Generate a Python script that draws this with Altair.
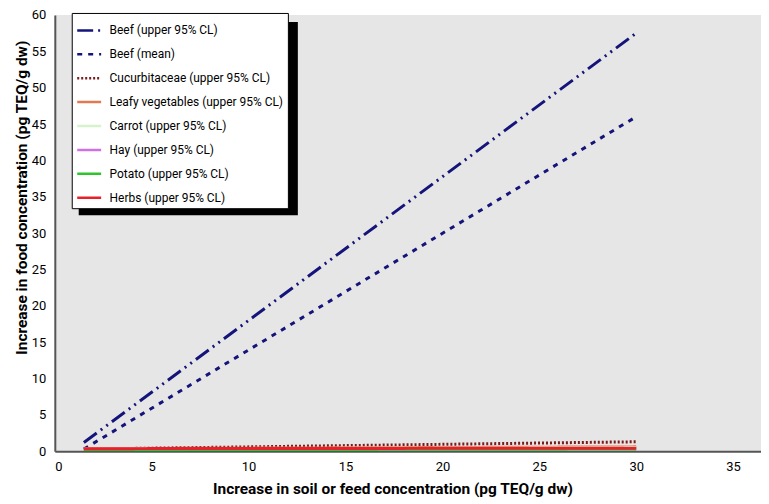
import altair as alt
import pandas as pd

series = [
    "Beef (upper 95% CL)",
    "Beef (mean)",
    "Cucurbitaceae (upper 95% CL)",
    "Leafy vegetables (upper 95% CL)",
    "Carrot (upper 95% CL)",
    "Hay (upper 95% CL)",
    "Potato (upper 95% CL)",
    "Herbs (upper 95% CL)",
]
colors = ["#14147a", "#14147a", "#7a1a1a", "#e07a50", "#d6f2cc", "#d070e6", "#2ec42e", "#e8202c"]
dashes = [[16, 5, 2, 5, 2, 5], [5, 6], [2, 2], [1, 0], [1, 0], [1, 0], [1, 0], [1, 0]]

x_start = [1.5, 1.5, 1.5, 1.5, 1.5, 1.5, 1.5, 1.5]
x_end = [30, 30, 30, 30, 30, 30, 30, 30]
y_start = [1.2, 0.3, 0.3, 0.35, 0.3, 0.25, 0.2, 0.35]
y_end = [57.5, 46.0, 1.3, 0.6, 0.5, 0.35, 0.3, 0.42]

x_ticks = [0, 5, 10, 15, 20, 25, 30, 35]
y_ticks = [0, 5, 10, 15, 20, 25, 30, 35, 40, 45, 50, 55, 60]

rows = []
for i, s in enumerate(series):
    rows.append({"series": s, "x": x_start[i], "y": y_start[i]})
    rows.append({"series": s, "x": x_end[i], "y": y_end[i]})
df = pd.DataFrame(rows)

FONT = "Roboto"

shadow = alt.Chart(pd.DataFrame({"a": [0]})).mark_rect(color="black").encode(
    x=alt.value(24), x2=alt.value(244), y=alt.value(7), y2=alt.value(201)
)

lines = alt.Chart(df).mark_line(strokeWidth=3, clip=True).encode(
    x=alt.X("x:Q", scale=alt.Scale(domain=[0, 36.44], nice=False),
            axis=alt.Axis(values=x_ticks, title="Increase in soil or feed concentration (pg TEQ/g dw)",
                          titleX=339, titleAnchor="middle", titlePadding=8, labelPadding=9)),
    y=alt.Y("y:Q", scale=alt.Scale(domain=[0, 60], nice=False),
            axis=alt.Axis(values=y_ticks, title="Increase in food concentration (pg TEQ/g dw)",
                          titleX=-25, titleY=183, titleBaseline="bottom", titleAnchor="middle",
                          labelPadding=9)),
    color=alt.Color("series:N", sort=series,
                    scale=alt.Scale(domain=series, range=colors),
                    legend=alt.Legend(title=None, orient="none", legendX=17, legendY=-2,
                                      symbolType="stroke", symbolSize=576, symbolStrokeWidth=2.5,
                                      labelFontSize=12, labelFont=FONT, labelColor="black",
                                      fillColor="white", strokeColor="black", padding=4,
                                      labelOffset=7, rowPadding=4, zindex=1, labelLimit=300)),
    strokeDash=alt.StrokeDash("series:N", sort=series,
                              scale=alt.Scale(domain=series, range=dashes), legend=None),
    detail="series:N",
    order="x:Q",
)

chart = alt.layer(shadow, lines).properties(
    width=709, height=438,
    autosize=alt.AutoSizeParams(type="none"),
    padding={"left": 47, "top": 6, "right": 0, "bottom": 52},
).configure_view(fill="#e6e6e6", stroke=None).configure_axis(
    grid=False, ticks=False, domainColor="#555555", domainWidth=2,
    labelFont=FONT, labelFontSize=13, labelColor="black",
    titleFont=FONT, titleFontSize=15.5, titleFontWeight="bold", titleColor="black",
)

chart.save("out.html", embed_options={"renderer": "svg", "actions": False})
